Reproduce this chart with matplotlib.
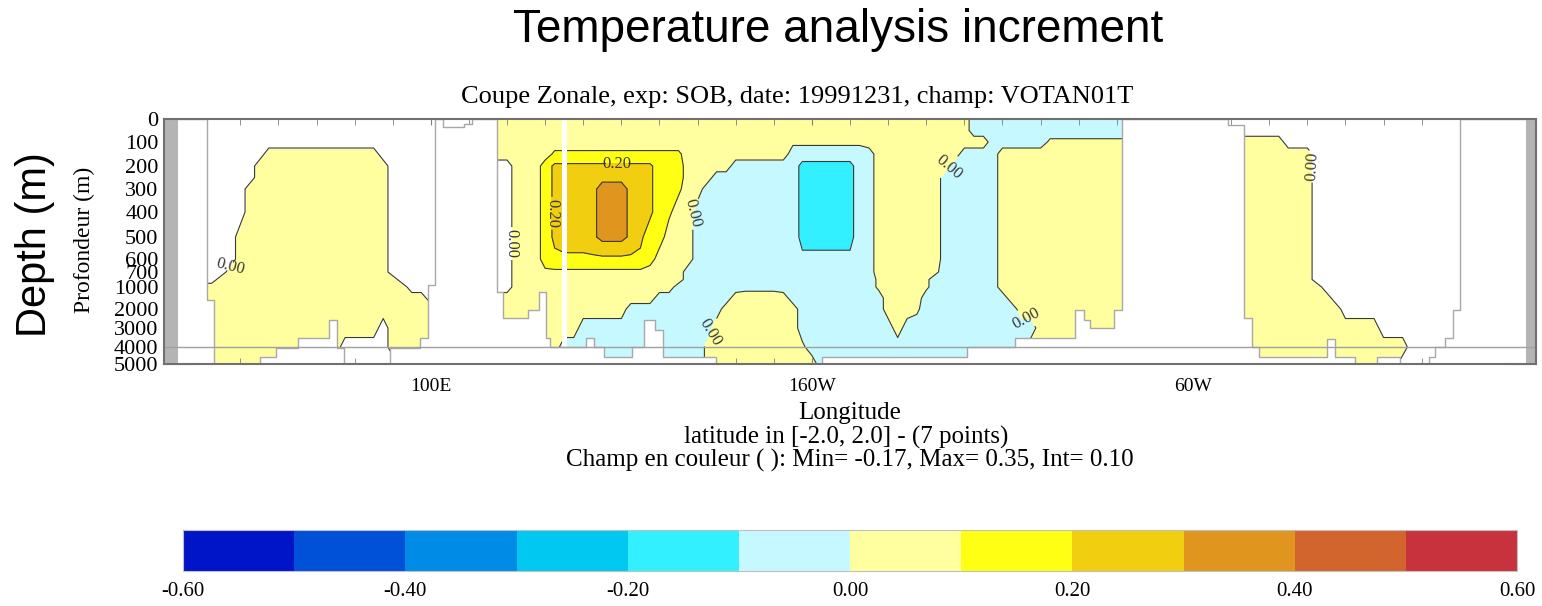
import numpy as np
import matplotlib
matplotlib.use('Agg')
import matplotlib.pyplot as plt
from matplotlib.colors import ListedColormap, BoundaryNorm
from matplotlib.cm import ScalarMappable
from matplotlib.ticker import MultipleLocator

plt.rcParams['font.family'] = ['Liberation Serif', 'DejaVu Serif']

# colour table of the plot (one colour per 0.10 band)
levels = [-0.6, -0.5, -0.4, -0.3, -0.2, -0.1, 0.0, 0.1, 0.2, 0.3, 0.4, 0.5, 0.6]
level_colors = ['#0014c8', '#0050d8', '#008ce6', '#00c8f0', '#32f0ff', '#c6f8ff',
                '#ffffa0', '#ffff14', '#f2ce10', '#e0961e', '#d2642d', '#c8323c']
cbar_ticks = [-0.6, -0.4, -0.2, 0.0, 0.2, 0.4, 0.6]

# depth levels of the field (m)
depth_nodes = [0, 50, 100, 150, 200, 250, 300, 400, 500, 600, 700, 850,
               1000, 1500, 2000, 3000, 4000, 5000]

# increment, one string per depth level, one char per 2.5 deg
# '.' = no increment (left white)
code_val = {'q': 0.02, 'p': 0.05, 'r': 0.08, 's': 0.12, 't': 0.15, 'u': 0.18,
            'v': 0.22, 'w': 0.25, 'x': 0.28, 'z': 0.33,
            'l': -0.05, 'm': -0.08, 'n': -0.13, '.': 0.05}

indian_lon = np.arange(37.5, 102.6, 2.5)
indian_rows = [
    ".... .... .... .... .... .... ...",
    ".... .... .... .... .... .... ...",
    ".... .... .... .... .... .... ...",
    ".... .... pppp pppp pppp .... ...",
    ".... ...p pppp pppp pppp p... ...",
    ".... ...p pppp pppp pppp p... ...",
    ".... ..pp pppp pppp pppp p... ...",
    ".... ..pp pppp pppp pppp p... ...",
    ".... .ppp pppp pppp pppp p... ...",
    ".... .ppp pppp pppp pppp p... ...",
    ".... pppp pppp pppp pppp p... ...",
    "...p pppp pppp pppp pppp pp.. ...",
    "pppp pppp pppp pppp pppp ppp. ...",
    "pppp pppp pppp pppp pppp pppp p..",
    "pppp pppp pppp pppp pppp pppp ppp",
    "pppp pppp pppp pppp pppp .ppp ppp",
    "pppp pppp pppp pppp .... .ppp ppp",
    "pppp pppp pppp pppp .... ..pp ppp",
]

pacific_lon = np.arange(115, 285.1, 2.5)
pacific_rows = [
    "pppp pppp pppp pppp pppp pppp pppp pppp pppp pppp pppp pppp pppl llll llll llll llll l",
    "pppp pppp pppp pppp pppp pppp pppp pppp pppp pppp pppp pppp pppl llll llll llll llll l",
    "pppp pppp pppp pppp pppp pppp pppp pppq qqqq qqqq pppp pppp pppp plll lllq qqqq qqqq q",
    "pppp ppps ssss ssss ssss sppp pppp pppp llll llll lppp pppp ppll llpp pppp pppp pppp p",
    "...p pptv vvvv vvvv vvtt tppp ppll llll lnnn nnnl lppp pppp plll llpp pppp pppp pppp p",
    "...p pptv vvvw xxxw wvtt tppp llll llll lnnn nnnl lppp pppp llll llpp pppp pppp pppp p",
    "...p pptv wwwx zzzx wvtt sppl llll llll lnnn nnnl lppp pppp llll llpp pppp pppp pppp p",
    "...p pptv wwwx zzzx wvts ppll llll llll lnnn nnnl lppp pppp llll llpp pppp pppp pppp p",
    "...p pptv wwwx zzzx vttp ppll llll llll lnnn nnnl lppp pppp llll llpp pppp pppp pppp p",
    "...p pptu uuuu uuuu utpp ppll llll llll lmmm mmml lppp pppp llll llpp pppp pppp pppp p",
    "...p pprr rrrr rrrr rppp plll llll llll llll llll lppp pppq llll llpp pppp pppp pppp p",
    "...p pppp pppp pppp pppp plll llll llll llll llll lqpp ppql llll llpp pppp pppp pppp p",
    "...p pppp pppp pppp pppp llll llll llll llll llll lqpp ppql llll llpp pppp pppp pppp p",
    "pppp pppp pppp pppp ppll llll llpr rrrp llll llll llpp ppll llll lllp pppp pppp pppp p",
    "pppp pppp pppp pppl llll llll lppp pppp plll llll llpp pqll llll llll pppp pppp pppp p",
    "pppp pppp ppll llll llll llll pppp pppp plll llll lllp llll llll llll llpp pppp pppp p",
    "pppp pppp llll llll llll lllq pppp pppp pqll llll llll llll llll llll lppp pppp pppp p",
    "pppp pppp llll llll llll lllq pppp pppp pppl llll llll llll llll llll lppp pppp pppp p",
]

atlantic_lon = np.arange(305, 375.1, 2.5)
atlantic_rows = [
    ".... .... .... .... .... .... .... .",
    ".... .... .... .... .... .... .... .",
    "pppp pppp .... .... .... .... .... .",
    "pppp pppp ppp. .... .... .... .... .",
    "pppp pppp ppp. .... .... .... .... .",
    "pppp pppp ppp. .... .... .... .... .",
    "pppp pppp ppp. .... .... .... .... .",
    "pppp pppp ppp. .... .... .... .... .",
    "pppp pppp ppp. .... .... .... .... .",
    "pppp pppp ppp. .... .... .... .... .",
    "pppp pppp ppp. .... .... .... .... .",
    "pppp pppp ppp. .... .... .... .... .",
    "pppp pppp pppp .... .... .... .... .",
    "pppp pppp pppp p... .... .... .... .",
    "pppp pppp pppp pp.. .... .... .... .",
    "pppp pppp pppp pppp pp.. .... .... .",
    "pppp pppp pppp pppp pppp p... .... .",
    "pppp pppp pppp pppp pppp .... .... .",
]

# sea floor (m) from each longitude to the next one, 0 = land
floor_lon = [30.0, 41.3, 43.1, 55.2, 59.4, 65.2, 73.3, 75.4, 77.2, 89.3, 97.2, 99.3,
             101.1, 103.2, 108.8, 110.8, 117.4, 119.0, 125.6, 128.4, 130.2, 131.3,
             140.8, 142.9, 145.5, 152.8, 156.0, 158.9, 161.0, 174.9, 202.7, 240.8,
             253.4, 269.1, 271.5, 273.0, 279.3, 281.4, 309.3, 313.5, 315.6, 317.4,
             335.2, 337.3, 342.5, 348.4, 354.2, 362.0, 363.6, 366.0, 368.1, 370.1, 390.0]
floor_m = [0, 1600, 5000, 4600, 4050, 3500, 2600, 4050, 5000, 4050, 3500, 950,
           0, 35, 20, 0, 1230, 2470, 2050, 1230, 3500, 4000,
           3500, 4000, 4600, 4000, 2600, 3100, 4600, 5000, 4600, 4000,
           3500, 2050, 2600, 3000, 2050, 0, 25, 2470, 4000, 4600,
           3600, 4600, 5000, 4600, 5000, 4600, 4000, 3500, 2050, 0, 0]
africa_lon = [(30.0, 33.6), (387.4, 390.0)]
gap_lon = (134.3, 135.7)

# depth axis ticks and their place on the stretched axis
axis_depth = [0, 100, 200, 300, 400, 500, 600, 700, 1000, 2000, 3000, 4000, 5000]
axis_pos = [0, 23, 47, 70, 93, 118, 140, 153, 168, 190, 209, 228, 245]

xtick_pos = [100, 200, 300]
xtick_lab = ['100E', '160W', '60W']

line_col = '#383838'


def decode(rows):
    rows = [r.replace(' ', '') for r in rows]
    F = np.array([[code_val[c] for c in r] for r in rows])
    M = np.array([[1.0 if c == '.' else 0.0 for c in r] for r in rows])
    return F, M


fig = plt.figure(figsize=(15.42, 6.06), dpi=100)
ax = fig.add_axes([0.1064, 0.3993, 0.8897, 0.4043])
ax.set_yscale('function', functions=(lambda d: np.interp(d, axis_depth, axis_pos),
                                     lambda p: np.interp(p, axis_pos, axis_depth)))

basins = [(indian_lon, indian_rows, [(47.3, 640)], []),
          (pacific_lon, pacific_rows, [(120.5, 530)],
           [(168.8, 405), (235.8, 200), (172.5, 3100), (256.2, 2450), (148.9, 185), (129.5, 405)]),
          (atlantic_lon, atlantic_rows, [(332.4, 200)], [])]

for lon, rows, mask_lab, field_lab in basins:
    F, M = decode(rows)
    ax.contourf(lon, depth_nodes, F, levels=levels, colors=level_colors, zorder=1)
    ax.contourf(lon, depth_nodes, M, levels=[0.5, 1.5], colors=['white'], zorder=1.2)
    ax.contour(lon, depth_nodes, F, levels=[-0.1, 0.1, 0.3], colors=line_col,
               linewidths=0.8, negative_linestyles='solid', zorder=1.5)
    cs = ax.contour(lon, depth_nodes, F, levels=[0.0, 0.2], colors=line_col,
                    linewidths=0.8, zorder=1.5)
    cm = ax.contour(lon, depth_nodes, M, levels=[0.5], colors=line_col,
                    linewidths=0.8, zorder=1.5)
    if field_lab:
        cs.clabel(manual=field_lab, fmt='%.2f', fontsize=12, inline_spacing=2)
    cm.clabel(manual=mask_lab, fmt={0.5: '0.00'}, fontsize=12, inline_spacing=2)

ax.axvspan(gap_lon[0], gap_lon[1], color='white', lw=0, zorder=2)
ax.fill_between(floor_lon, floor_m, 5000, step='post', facecolor='white',
                edgecolor='#a8a8a8', linewidth=1.0, zorder=3)
for a, b in africa_lon:
    ax.axvspan(a, b, color='#b4b4b4', lw=0, zorder=4)
ax.axhline(4000, color='#a0a0a0', lw=1.0, zorder=5)

ax.set_xlim(30, 390)
ax.set_ylim(5000, 0)
ax.set_xticks(xtick_pos)
ax.set_xticklabels(xtick_lab)
ax.xaxis.set_minor_locator(MultipleLocator(10))
ax.tick_params(axis='x', which='both', direction='in', top=True, length=4,
               color='#808080', labelsize=14, pad=10)
ax.set_yticks(axis_depth)
ax.set_yticklabels([str(d) for d in axis_depth])
ax.yaxis.set_minor_locator(plt.NullLocator())
ax.tick_params(axis='y', direction='in', right=True, length=20, color='#a0a0a0',
               labelsize=16, pad=4)
for s in ax.spines.values():
    s.set_color('#707070')
    s.set_linewidth(1.5)
    s.set_zorder(6)

fig.text(0.5438, 1 - 30 / 606, 'Temperature analysis increment', family='Liberation Sans',
         fontsize=33, ha='center', va='center')
fig.text(0.517, 1 - 97 / 606, 'Coupe Zonale, exp: SOB, date: 19991231, champ: VOTAN01T',
         fontsize=19, ha='center', va='center')
fig.text(35 / 1542, 1 - 245 / 606, 'Depth (m)', family='Liberation Sans', fontsize=30,
         rotation=90, ha='center', va='center')
fig.text(84 / 1542, 1 - 240 / 606, 'Profondeur (m)', fontsize=17, rotation=90,
         ha='center', va='center')
fig.text(0.551, 1 - 413 / 606, 'Longitude', fontsize=18, ha='center', va='center')
fig.text(0.549, 1 - 437 / 606, 'latitude in [-2.0, 2.0] - (7 points)', fontsize=18,
         ha='center', va='center')
fig.text(0.551, 1 - 460 / 606, 'Champ en couleur ( ): Min= -0.17, Max= 0.35, Int= 0.10',
         fontsize=18, ha='center', va='center')

cax = fig.add_axes([0.1187, 0.0578, 0.8651, 0.0677])
sm = ScalarMappable(norm=BoundaryNorm(levels, len(level_colors)), cmap=ListedColormap(level_colors))
cb = fig.colorbar(sm, cax=cax, orientation='horizontal', ticks=cbar_ticks)
cb.minorticks_off()
cb.ax.set_xticklabels(['%.2f' % t for t in cbar_ticks])
cb.ax.tick_params(which='both', length=0, labelsize=15, pad=8)
cb.outline.set_edgecolor('#c0c0c0')

fig.savefig('out.png', dpi=100)
